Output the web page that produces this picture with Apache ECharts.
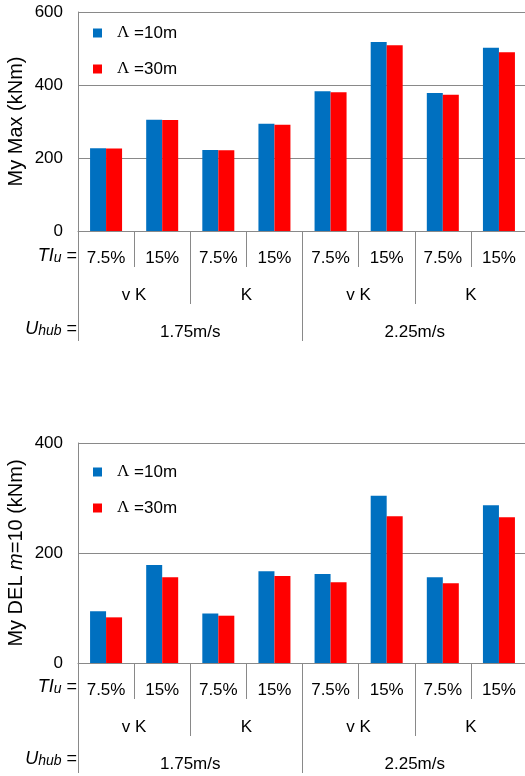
<!DOCTYPE html>
<html>
<head>
<meta charset="utf-8">
<script src="https://cdn.jsdelivr.net/npm/echarts@6/dist/echarts.min.js"></script>
<style>
  html, body { margin: 0; padding: 0; background: #fff; }
  #chart { width: 525px; height: 776px; }
</style>
</head>
<body>
<div id="chart"></div>
<script>
// Turbulence intensity (innermost category level)
const tiLabels = ['7.5%', '15%', '7.5%', '15%', '7.5%', '15%', '7.5%', '15%'];
// Spectrum model (middle level)
const modelLabels = ['v K', 'K', 'v K', 'K'];
// Hub-height wind speed (outer level)
const speedLabels = ['1.75m/s', '2.25m/s'];

const seriesNames = ['Λ =10m', 'Λ =30m'];

// Maximum fore-aft moment My (kNm)
const myMax10 = [227, 305, 222, 294, 383, 518, 378, 502];
const myMax30 = [226, 304, 221, 291, 380, 509, 373, 490];

// Damage-equivalent load, Wöhler exponent m = 10 (kNm)
const del10 = [94, 178, 90, 167, 162, 304, 156, 287];
const del30 = [83, 156, 86, 158, 147, 267, 145, 265];

const topTicks = { max: 600, interval: 200 };
const bottomTicks = { max: 400, interval: 200 };

const BLUE = '#0070C0';
const RED = '#FF0000';
const GRAY = '#898989';
const FONT = 'Liberation Sans, Arial, sans-serif';
const LABEL_SIZE = 17;

const chart = echarts.init(document.getElementById('chart'));

function xAxesFor(gridIndex) {
  return [
    {
      gridIndex, type: 'category', data: tiLabels, position: 'bottom', offset: 0,
      axisLine: { show: true, lineStyle: { color: GRAY, width: 1 } },
      axisTick: { show: true, interval: 0, length: 36, lineStyle: { color: GRAY } },
      axisLabel: { interval: 0, margin: 19, fontSize: LABEL_SIZE, color: '#000', fontFamily: FONT }
    },
    {
      gridIndex, type: 'category', data: modelLabels, position: 'bottom', offset: 0,
      axisLine: { show: false },
      axisTick: { show: true, interval: 0, length: 73, lineStyle: { color: GRAY } },
      axisLabel: { interval: 0, margin: 56, fontSize: LABEL_SIZE, color: '#000', fontFamily: FONT }
    },
    {
      gridIndex, type: 'category', data: speedLabels, position: 'bottom', offset: 0,
      axisLine: { show: false },
      axisTick: { show: true, interval: 0, length: 110, lineStyle: { color: GRAY } },
      axisLabel: { interval: 0, margin: 93, fontSize: LABEL_SIZE, color: '#000', fontFamily: FONT }
    }
  ];
}

function yAxisFor(gridIndex, ticks, name) {
  return {
    gridIndex, type: 'value', min: 0, max: ticks.max, interval: ticks.interval,
    name, nameLocation: 'middle', nameGap: 52, nameMoveOverlap: false,
    nameTextStyle: {
      fontSize: 20, color: '#000', fontFamily: FONT,
      rich: {
        a: { fontSize: 20, color: '#000', fontFamily: FONT },
        i: { fontSize: 20, color: '#000', fontFamily: FONT, fontStyle: 'italic' }
      }
    },
    axisLine: { show: true, lineStyle: { color: GRAY, width: 1 } },
    axisTick: { show: false },
    axisLabel: { margin: 15, fontSize: LABEL_SIZE, color: '#000', fontFamily: FONT },
    splitLine: { show: true, lineStyle: { color: GRAY, width: 1 } }
  };
}

function barSeries(name, data, color, xAxisIndex, yAxisIndex) {
  return {
    name, type: 'bar', data, xAxisIndex, yAxisIndex,
    barWidth: 16, barGap: '0%',
    itemStyle: { color },
    emphasis: { disabled: true },
    animation: false
  };
}

function legendAt(top) {
  return {
    left: 93, top, orient: 'vertical', padding: 0,
    icon: 'rect', itemWidth: 9, itemHeight: 9, itemGap: 16,
    data: seriesNames,
    formatter: (n) => '{l|Λ}{t|' + n.slice(1) + '}',
    textStyle: {
      padding: [0, 0, 0, 10], lineHeight: 20,
      rich: {
        l: { fontSize: 17, fontFamily: 'Liberation Serif, Times New Roman, serif', color: '#000' },
        t: { fontSize: 17, fontFamily: FONT, color: '#000' }
      }
    },
    selectedMode: false
  };
}

// Row captions to the left of the category levels
function rowCaption(y, parts) {
  return {
    type: 'text', right: 525 - 77, top: y - 11,
    style: {
      rich: {
        i: { fontSize: 18, fontStyle: 'italic', fontFamily: FONT, fill: '#000' },
        s: { fontSize: 14, fontStyle: 'italic', fontFamily: FONT, fill: '#000', padding: [4, 0, 0, 0] },
        n: { fontSize: 18, fontFamily: FONT, fill: '#000' }
      },
      text: parts
    }
  };
}

chart.setOption({
  animation: false,
  backgroundColor: '#fff',
  grid: [
    { left: 78, top: 12, width: 449, height: 219, containLabel: false, outerBoundsMode: 'none' },
    { left: 78, top: 443, width: 449, height: 220, containLabel: false, outerBoundsMode: 'none' }
  ],
  xAxis: [...xAxesFor(0), ...xAxesFor(1)],
  yAxis: [
    yAxisFor(0, topTicks, 'My Max (kNm)'),
    yAxisFor(1, bottomTicks, '{a|My DEL }{i|m}{a|=10 (kNm)}')
  ],
  legend: [legendAt(23), legendAt(462)],
  series: [
    barSeries(seriesNames[0], myMax10, BLUE, 0, 0),
    barSeries(seriesNames[1], myMax30, RED, 0, 0),
    barSeries(seriesNames[0], del10, BLUE, 3, 1),
    barSeries(seriesNames[1], del30, RED, 3, 1)
  ],
  graphic: [
    rowCaption(258, '{i|TI}{s|u}{n| =}'),
    rowCaption(331, '{i|U}{s|hub}{n| =}'),
    rowCaption(689, '{i|TI}{s|u}{n| =}'),
    rowCaption(761, '{i|U}{s|hub}{n| =}')
  ]
});
</script>
</body>
</html>
